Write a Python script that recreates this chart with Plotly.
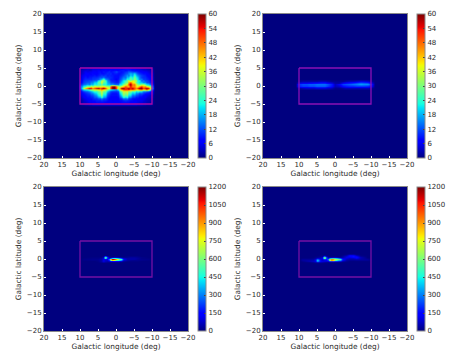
import plotly.graph_objects as go

W, H = 450, 360

# Data (counts per cell). Longitude runs from left to right.
lon_a = [10.5, 10, 9.5, 9, 8.5, 8, 7.5, 7, 6.5, 6, 5.5, 5, 4.5, 4, 3.5, 3, 2.5, 2, 1.5, 1, 0.5, 0,
         -0.5, -1, -1.5, -2, -2.5, -3, -3.5, -4, -4.5, -5, -5.5, -6, -6.5, -7, -7.5, -8, -8.5, -9, -9.5, -10, -10.5]
lat_a = [5.5, 5, 4.5, 4, 3.5, 3, 2.5, 2, 1.5, 1, 0.5, 0, -0.5, -1, -1.5, -2, -2.5, -3, -3.5, -4, -4.5, -5, -5.5]
counts_a = [
    [2, 2, 3, 3, 4, 4, 4, 5, 5, 5, 5, 5, 5, 6, 6, 6, 6, 6, 6, 7, 6, 7, 7, 6, 7, 8, 8, 7, 7, 6, 6, 5, 5, 5, 4, 4, 4, 3, 3, 2, 2],
    [3, 4, 4, 5, 5, 4, 5, 6, 6, 6, 7, 6, 7, 7, 8, 7, 8, 8, 7, 8, 8, 7, 8, 9, 9, 8, 9, 10, 9, 8, 8, 7, 7, 6, 6, 5, 5, 5, 4, 4, 3],
    [3, 4, 5, 6, 5, 6, 6, 7, 7, 6, 8, 8, 7, 9, 8, 9, 10, 8, 9, 10, 12, 9, 9, 8, 9, 10, 11, 13, 12, 11, 10, 10, 9, 8, 7, 7, 6, 6, 5, 4, 3],
    [3, 5, 5, 7, 7, 6, 7, 8, 7, 7, 8, 9, 8, 8, 9, 10, 9, 10, 8, 9, 9, 8, 8, 9, 10, 12, 13, 15, 18, 16, 20, 14, 12, 10, 9, 8, 8, 7, 6, 5, 4],
    [4, 6, 7, 8, 7, 8, 8, 8, 9, 8, 9, 10, 11, 10, 11, 9, 10, 9, 9, 8, 8, 8, 9, 10, 12, 14, 17, 14, 20, 17, 26, 18, 16, 13, 11, 10, 9, 8, 7, 6, 4],
    [4, 7, 8, 9, 8, 9, 9, 10, 10, 10, 11, 13, 12, 15, 11, 11, 10, 10, 9, 8, 8, 8, 10, 12, 15, 14, 20, 19, 26, 22, 30, 22, 20, 14, 11, 10, 10, 9, 8, 7, 5],
    [5, 7, 9, 10, 10, 10, 10, 11, 11, 12, 13, 18, 20, 28, 17, 14, 11, 9, 9, 8, 7, 9, 11, 14, 18, 18, 26, 22, 30, 24, 32, 24, 22, 15, 15, 11, 11, 10, 9, 7, 5],
    [6, 8, 10, 11, 11, 12, 12, 13, 14, 14, 22, 24, 36, 32, 26, 15, 13, 10, 9, 9, 8, 9, 12, 16, 22, 24, 30, 38, 28, 40, 34, 32, 22, 22, 13, 15, 11, 12, 10, 8, 6],
    [7, 9, 11, 12, 13, 13, 16, 15, 20, 20, 28, 28, 38, 26, 26, 17, 15, 12, 11, 10, 9, 10, 14, 20, 22, 30, 30, 44, 50, 40, 38, 26, 24, 20, 20, 15, 16, 12, 12, 9, 7],
    [10, 12, 14, 15, 17, 15, 20, 18, 24, 22, 26, 24, 30, 22, 24, 19, 19, 16, 17, 14, 14, 14, 22, 22, 32, 34, 42, 50, 60, 46, 48, 36, 32, 28, 32, 34, 26, 22, 20, 14, 10],
    [14, 18, 24, 26, 32, 30, 38, 32, 38, 36, 34, 38, 36, 40, 34, 34, 32, 48, 60, 60, 46, 36, 32, 38, 42, 50, 44, 42, 54, 46, 46, 40, 38, 46, 52, 44, 46, 40, 36, 30, 16],
    [12, 24, 34, 44, 50, 58, 54, 46, 50, 56, 60, 50, 56, 60, 52, 40, 36, 50, 60, 60, 50, 30, 42, 60, 60, 52, 56, 60, 52, 58, 50, 46, 52, 60, 60, 50, 56, 60, 56, 38, 18],
    [10, 16, 20, 22, 24, 28, 34, 34, 38, 36, 40, 42, 46, 40, 36, 30, 24, 22, 20, 18, 16, 24, 36, 44, 50, 52, 50, 54, 48, 50, 46, 40, 38, 46, 48, 40, 44, 50, 40, 26, 12],
    [6, 9, 10, 12, 13, 15, 18, 20, 24, 24, 28, 30, 36, 28, 28, 18, 14, 11, 10, 10, 10, 12, 22, 28, 36, 34, 36, 28, 30, 24, 26, 20, 24, 20, 20, 14, 14, 12, 11, 8, 6],
    [5, 7, 8, 9, 10, 11, 14, 14, 18, 20, 26, 28, 36, 24, 24, 13, 11, 9, 8, 8, 8, 10, 18, 24, 34, 30, 34, 24, 24, 18, 20, 14, 15, 11, 12, 10, 8, 8, 7, 6, 5],
    [4, 6, 7, 8, 9, 9, 11, 11, 14, 16, 22, 24, 32, 20, 20, 11, 9, 8, 8, 8, 8, 9, 14, 20, 30, 26, 28, 20, 20, 13, 14, 11, 11, 9, 9, 7, 7, 6, 5, 4, 3],
    [3, 5, 6, 7, 8, 8, 9, 9, 12, 12, 16, 18, 24, 16, 15, 9, 8, 7, 7, 7, 7, 8, 11, 14, 22, 19, 22, 14, 14, 10, 10, 8, 9, 7, 7, 6, 6, 5, 4, 4, 3],
    [3, 4, 5, 6, 7, 8, 8, 9, 10, 10, 12, 12, 15, 11, 11, 9, 7, 7, 7, 7, 7, 7, 9, 10, 14, 13, 15, 10, 10, 8, 8, 8, 7, 7, 6, 6, 5, 4, 4, 3, 2],
    [2, 3, 4, 5, 6, 7, 7, 8, 8, 9, 9, 9, 10, 9, 9, 8, 7, 7, 6, 7, 7, 7, 8, 8, 9, 10, 9, 9, 8, 8, 7, 7, 6, 6, 6, 5, 4, 4, 3, 3, 2],
    [2, 3, 4, 4, 5, 6, 6, 7, 7, 8, 8, 8, 8, 8, 7, 7, 7, 7, 7, 7, 7, 7, 7, 8, 8, 8, 8, 8, 7, 7, 7, 6, 6, 5, 5, 4, 4, 3, 3, 2, 2],
    [1, 2, 2, 3, 3, 4, 4, 5, 5, 5, 5, 5, 5, 5, 5, 5, 5, 5, 5, 5, 5, 5, 5, 5, 5, 5, 5, 5, 5, 5, 5, 5, 4, 4, 4, 3, 3, 2, 2, 2, 1],
]

lon_b = [11, 10, 9, 8, 7, 6, 5, 4, 3, 2, 1, 0, -1, -2, -3, -4, -5, -6, -7, -8, -9, -10, -11]
lat_b = [2, 1.5, 1, 0.5, 0, -0.5, -1]
counts_b = [
    [1, 2, 2, 2, 2, 2, 3, 3, 2, 1, 1, 1, 1, 2, 3, 3, 4, 5, 5, 4, 2],
    [5, 6, 6, 7, 8, 8, 9, 9, 7, 5, 2, 2, 6, 8, 9, 10, 12, 14, 13, 12, 7],
    [10, 12, 12, 13, 13, 14, 14, 14, 12, 9, 3, 6, 11, 12, 13, 14, 15, 17, 16, 16, 11],
    [9, 11, 11, 12, 12, 13, 13, 13, 11, 8, 3, 4, 8, 9, 10, 10, 11, 11, 11, 10, 8],
    [2, 3, 4, 4, 4, 5, 5, 5, 4, 3, 1, 1, 2, 3, 3, 3, 3, 3, 3, 3, 2],
]

lon_c = [10, 9, 7, 6, 5.5, 5, 4, 3.5, 3, 2.5, 2, 1.5, 1, 0.5, 0, -0.5, -1, -1.5, -2, -3, -4, -5, -6, -7, -9, -10]
lat_c = [1, 0.75, 0.5, 0.25, 0, -0.25, -0.5, -0.75, -1]
counts_c = [
    [0, 0, 0, 0, 0, 0, 20, 260, 50, 10, 0, 0, 10, 10, 0, 0, 0, 0, 10, 10, 10, 10, 0, 0],
    [0, 5, 5, 5, 5, 10, 60, 600, 150, 30, 40, 60, 80, 70, 60, 50, 30, 20, 20, 30, 30, 20, 10, 0],
    [5, 10, 10, 10, 10, 30, 100, 500, 130, 120, 250, 420, 480, 420, 360, 320, 220, 80, 40, 40, 40, 30, 10, 5],
    [10, 15, 15, 15, 20, 40, 110, 120, 100, 320, 750, 1150, 1050, 850, 650, 560, 460, 120, 40, 40, 40, 25, 15, 10],
    [5, 10, 10, 10, 15, 40, 110, 70, 80, 220, 550, 850, 720, 520, 470, 420, 320, 80, 30, 20, 15, 15, 10, 5],
    [0, 0, 0, 5, 10, 40, 100, 60, 50, 80, 130, 150, 150, 120, 120, 100, 80, 30, 10, 5, 5, 5, 0, 0],
    [0, 0, 0, 0, 5, 20, 50, 30, 20, 20, 20, 20, 20, 20, 20, 10, 10, 5, 0, 0, 0, 0, 0, 0],
]

lat_d = [1.5, 1.25, 1, 0.75, 0.5, 0.25, 0, -0.25, -0.5, -0.75, -1, -1.25]
counts_d = [
    [0, 0, 0, 0, 0, 0, 0, 0, 0, 0, 0, 0, 0, 0, 0, 0, 0, 0, 10, 40, 40, 10, 0, 0],
    [0, 0, 0, 0, 0, 10, 10, 40, 10, 0, 0, 0, 0, 0, 0, 0, 0, 10, 50, 130, 140, 60, 10, 0],
    [0, 0, 0, 5, 10, 20, 30, 300, 60, 10, 5, 10, 10, 10, 0, 0, 10, 30, 90, 130, 170, 130, 30, 0],
    [0, 0, 5, 20, 30, 50, 100, 720, 180, 40, 60, 70, 100, 90, 70, 60, 40, 50, 110, 100, 130, 160, 60, 0],
    [10, 10, 20, 40, 120, 70, 120, 600, 200, 170, 350, 500, 550, 450, 400, 350, 250, 120, 90, 60, 70, 110, 50, 15],
    [30, 30, 40, 100, 320, 100, 90, 150, 150, 350, 750, 950, 900, 700, 650, 600, 500, 170, 60, 40, 40, 50, 40, 30],
    [30, 50, 60, 120, 420, 120, 80, 100, 120, 220, 550, 900, 800, 500, 400, 350, 300, 120, 30, 15, 15, 20, 20, 20],
    [10, 50, 70, 100, 320, 110, 100, 90, 80, 90, 150, 180, 170, 120, 120, 100, 80, 40, 15, 0, 0, 0, 0, 0],
    [0, 30, 60, 80, 120, 90, 90, 60, 30, 20, 30, 30, 20, 10, 10, 0, 0, 0, 0, 0, 0, 0, 0, 0],
    [0, 5, 20, 40, 40, 40, 30, 20, 10, 0, 0, 0, 0, 0, 0, 0, 0, 0, 0, 0, 0, 0, 0, 0],
]

box_lon = [10, -10, -10, 10, 10]
box_lat = [5, 5, -5, -5, 5]
axis_ticks = [20, 15, 10, 5, 0, -5, -10, -15, -20]
cbar_ticks_low = [0, 6, 12, 18, 24, 30, 36, 42, 48, 54, 60]
cbar_ticks_high = [0, 150, 300, 450, 600, 750, 900, 1050, 1200]

JET = [
    [0, "#00007f"], [0.11, "#0000ff"], [0.125, "#0000ff"], [0.35, "#00e6f7"],
    [0.375, "#14ffe2"], [0.64, "#eeff08"], [0.66, "#ffec00"], [0.89, "#ff1300"],
    [0.91, "#e80000"], [1, "#7f0000"],
]
TEXT = "#2a2a2a"
FRAME = "#8a8a8a"
FONT = "DejaVu Sans"
TICK_SIZE = 7
LABEL_SIZE = 7.4


def padded(rows):
    # zero rim round the measured block so the colour fades out to the background
    width = len(rows[0]) + 2
    return [[0] * width] + [[0] + r + [0] for r in rows] + [[0] * width]


panels = [
    # x0, y0 (top left of the axes, pixels), lon, lat, counts, zmax, colourbar ticks, box colour
    (44, 14, lon_a, lat_a, padded(counts_a), 60, cbar_ticks_low, "#a808a8"),
    (263, 14, lon_b, lat_b, padded(counts_b), 60, cbar_ticks_low, "#8c10b4"),
    (44, 187, lon_c, lat_c, padded(counts_c), 1200, cbar_ticks_high, "#7410a4"),
    (263, 187, lon_c, lat_d, padded(counts_d), 1200, cbar_ticks_high, "#7410a4"),
]
SIZE = 144

fig = go.Figure()
for i, (x0, y0, lon, lat, z, zmax, cticks, box_color) in enumerate(panels):
    suffix = "" if i == 0 else str(i + 1)
    dom_x = [x0 / W, (x0 + SIZE) / W]
    dom_y = [1 - (y0 + SIZE) / H, 1 - y0 / H]
    fig.add_trace(go.Heatmap(
        x=lon, y=lat, z=z, zmin=0, zmax=zmax, zsmooth="best", colorscale=JET,
        xaxis="x" + suffix, yaxis="y" + suffix, hoverinfo="skip",
        colorbar=dict(
            x=(x0 + SIZE + 9.5) / W, xanchor="left", xpad=0, ypad=0,
            y=dom_y[0], yanchor="bottom", len=SIZE / H, thickness=7.5,
            tickvals=cticks, ticks="inside", ticklen=2, tickcolor="#444444", tickwidth=0.5,
            tickfont=dict(family=FONT, size=TICK_SIZE, color=TEXT),
            outlinecolor=FRAME, outlinewidth=1,
        ),
    ))
    fig.add_trace(go.Scatter(
        x=box_lon, y=box_lat, mode="lines", hoverinfo="skip", showlegend=False,
        line=dict(color=box_color, width=1.3), xaxis="x" + suffix, yaxis="y" + suffix,
    ))
    common = dict(
        tickfont=dict(family=FONT, size=TICK_SIZE, color=TEXT), tickangle=0, ticks="inside", ticklen=2,
        tickcolor="#ffffff", tickwidth=0.5, showgrid=False, zeroline=False, mirror=True,
        showline=True, linecolor=FRAME, linewidth=1,
    )
    fig.update_layout({
        "xaxis" + suffix: dict(
            domain=dom_x, range=[20, -20], tickvals=axis_ticks, anchor="y" + suffix,
            title=dict(text="Galactic longitude (deg)", standoff=2,
                       font=dict(family=FONT, size=LABEL_SIZE, color=TEXT)),
            **common,
        ),
        "yaxis" + suffix: dict(
            domain=dom_y, range=[-20, 20], tickvals=axis_ticks[::-1], anchor="x" + suffix,
            title=dict(text="Galactic latitude (deg)", standoff=4,
                       font=dict(family=FONT, size=LABEL_SIZE, color=TEXT)),
            **common,
        ),
    })

fig.update_layout(
    width=W, height=H, autosize=False, margin=dict(l=0, r=0, t=0, b=0, autoexpand=False),
    paper_bgcolor="white", plot_bgcolor="#00007f", showlegend=False,
)

fig.write_html("out.html", config=dict(displayModeBar=False),
               post_script="document.body.style.margin='0';")
